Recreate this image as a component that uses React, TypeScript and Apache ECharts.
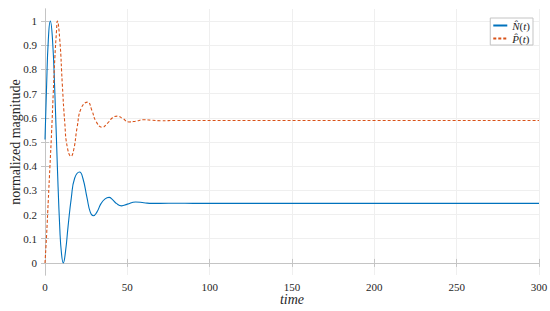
import React, { useEffect, useRef } from "react";
import * as echarts from "echarts";

const xTicks = [0, 50, 100, 150, 200, 250, 300];
const yTicks = [0, 0.1, 0.2, 0.3, 0.4, 0.5, 0.6, 0.7, 0.8, 0.9, 1];

const nTime = [0, 1, 2, 3.2, 4.5, 6, 7.5, 9, 10, 11.1, 12.5, 14, 16, 18, 21, 23, 25.5, 27.5, 29.3, 31.5, 34, 36.5, 38.9, 41, 43.5, 46.5, 50, 55, 60, 65, 70, 80, 90, 300];
const nValue = [0.51, 0.74, 0.92, 1.0, 0.93, 0.7, 0.4, 0.14, 0.04, 0.0, 0.05, 0.15, 0.27, 0.35, 0.376, 0.35, 0.27, 0.21, 0.195, 0.21, 0.245, 0.265, 0.271, 0.262, 0.245, 0.236, 0.243, 0.252, 0.249, 0.246, 0.246, 0.247, 0.246, 0.246];

const pTime = [0, 1, 2, 3, 4, 5, 6, 7, 7.5, 9, 10.5, 12, 13.5, 15.8, 17.5, 19.5, 22, 25.9, 28.5, 31, 34.8, 38, 41, 43.9, 47, 51, 55, 60, 65, 70, 80, 300];
const pValue = [0.0, 0.12, 0.26, 0.4, 0.54, 0.7, 0.85, 0.96, 1.0, 0.92, 0.74, 0.58, 0.48, 0.441, 0.47, 0.56, 0.64, 0.665, 0.63, 0.585, 0.561, 0.578, 0.6, 0.607, 0.598, 0.583, 0.586, 0.592, 0.59, 0.588, 0.589, 0.589];

const seriesNames = ["N", "P"];

export default function App() {
  const ref = useRef<HTMLDivElement>(null);
  useEffect(() => {
    if (!ref.current) return;
    const chart = echarts.init(ref.current, null, { renderer: "svg" });
    const boxColor = "#c4c4c4";
    const gridColor = "#efefef";
    const tickCommon = { show: true, inside: true, length: 4, lineStyle: { color: boxColor } };
    chart.setOption({
      animation: false,
      textStyle: { fontFamily: "Liberation Serif" },
      grid: { left: 45, right: 11, top: 9, bottom: 36, outerBoundsMode: "none" },
      legend: {
        orient: "vertical",
        right: 17,
        top: 18,
        backgroundColor: "#fff",
        borderColor: boxColor,
        borderWidth: 1,
        borderRadius: 0,
        padding: [2, 3, 1, 2],
        itemWidth: 14,
        itemHeight: 8,
        itemGap: 2,
        itemStyle: { opacity: 0 },
        data: seriesNames,
        formatter: (name: string) => `{i|${name}\u0302}{n|(}{i|t}{n|)}`,
        textStyle: {
          fontFamily: "Liberation Serif",
          fontSize: 11,
          color: "#262626",
          rich: {
            i: { fontFamily: "Liberation Serif", fontStyle: "italic", fontSize: 11, color: "#262626" },
            n: { fontFamily: "Liberation Serif", fontSize: 11, color: "#262626" },
          },
        },
      },
      xAxis: [
        {
          type: "value",
          min: 0,
          max: 300,
          interval: 50,
          name: "time",
          nameLocation: "middle",
          nameGap: 17,
          nameMoveOverlap: false,
          nameTextStyle: { fontFamily: "Liberation Serif", fontStyle: "italic", fontSize: 14, color: "#262626" },
          axisLine: { show: true, lineStyle: { color: boxColor } },
          axisTick: tickCommon,
          axisLabel: { fontFamily: "Liberation Serif", fontSize: 11, color: "#262626", margin: 6, formatter: (v: number) => (xTicks.includes(v) ? String(v) : "") },
          splitLine: { show: true, lineStyle: { color: gridColor } },
        },
        {
          type: "value",
          position: "top",
          min: 0,
          max: 300,
          interval: 50,
          axisLine: { show: true, lineStyle: { color: boxColor } },
          axisTick: tickCommon,
          axisLabel: { show: false },
          splitLine: { show: false },
        },
      ],
      yAxis: [
        {
          type: "value",
          min: -0.05,
          max: 1.05,
          name: "normalized magnitude",
          nameLocation: "middle",
          nameGap: 23,
          nameMoveOverlap: false,
          nameTextStyle: { fontFamily: "Liberation Serif", fontSize: 14, color: "#262626" },
          axisLine: { show: true, lineStyle: { color: boxColor } },
          axisTick: { ...tickCommon, customValues: yTicks },
          axisLabel: { customValues: yTicks, fontFamily: "Liberation Serif", fontSize: 11, color: "#262626", margin: 8, formatter: (v: number) => String(Math.round(v * 10) / 10) },
          splitLine: { show: true, lineStyle: { color: gridColor } },
        },
        {
          type: "value",
          position: "right",
          min: -0.05,
          max: 1.05,
          axisLine: { show: true, lineStyle: { color: boxColor } },
          axisTick: { ...tickCommon, customValues: yTicks },
          axisLabel: { show: false },
          splitLine: { show: false },
        },
      ],
      series: [
        {
          name: "N",
          type: "line",
          smooth: 0.5,
          showSymbol: false,
          symbol: "none",
          color: "#0072BD",
          lineStyle: { color: "#0072BD", width: 1.1 },
          data: nTime.map((t, i) => [t, nValue[i]]),
        },
        {
          name: "P",
          type: "line",
          smooth: 0.5,
          showSymbol: false,
          symbol: "none",
          color: "#D95319",
          lineStyle: { color: "#D95319", width: 1.1, type: [3, 2] },
          data: pTime.map((t, i) => [t, pValue[i]]),
        },
      ],
    });
    return () => chart.dispose();
  }, []);
  return <div ref={ref} style={{ width: 550, height: 311, position: "absolute", left: 0, top: 0 }} />;
}
